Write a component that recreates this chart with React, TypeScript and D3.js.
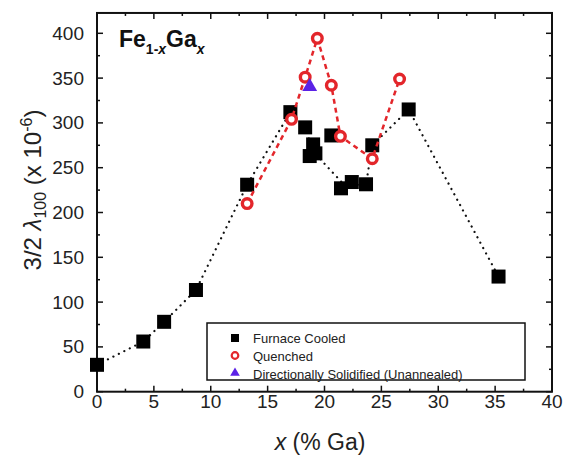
import React from "react";
import * as d3 from "d3";

const furnaceX = [0, 4.07, 5.9, 8.7, 13.2, 17.0, 18.3, 18.7, 19.2, 19.0, 20.6, 21.45, 22.4, 23.65, 24.2, 27.4, 35.3];
const furnaceY = [30, 56, 78, 113.5, 231, 312, 295, 263, 266, 276, 286, 227, 234, 231.5, 275, 315, 128.5];

const trendX = [0, 4.07, 5.9, 8.7, 13.2, 17.0, 18.3, 19.0, 21.8, 23.65, 24.2, 27.4, 35.3];
const trendY = [30, 56, 78, 113.5, 231, 312, 295, 268, 230, 231.5, 275, 315, 128.5];

const quenchX = [13.2, 17.1, 18.3, 19.37, 20.6, 21.4, 24.2, 26.6];
const quenchY = [210, 304, 351, 394.4, 342, 285, 260, 349];

const dsX = [18.7];
const dsY = [340.5];

const xTicks = [0, 5, 10, 15, 20, 25, 30, 35, 40];
const yTicks = [0, 50, 100, 150, 200, 250, 300, 350, 400];
const legendLabels = ["Furnace Cooled", "Quenched", "Directionally Solidified (Unannealed)"];

const FONT = "'Liberation Sans', Arial, Helvetica, sans-serif";
const RED = "#e3262b";
const BLUE = "#5b22e6";

export default function App() {
  const x = d3.scaleLinear().domain([0, 40]).range([97, 552]);
  const y = d3.scaleLinear().domain([0, 400]).range([391.7, 33.3]);
  const left = x(0), right = x(40), bottom = y(0), top = y(422.7);

  const line = d3.line<[number, number]>().x((d) => x(d[0])).y((d) => y(d[1]));
  const trendPts = trendX.map((v, i) => [v, trendY[i]] as [number, number]);
  const quenchPts = quenchX.map((v, i) => [v, quenchY[i]] as [number, number]);

  const xMinor = d3.range(0, 40.01, 2.5);
  const yMinor = d3.range(0, 420.01, 25);

  const sq = 14;
  const tri = d3.symbol().type(d3.symbolTriangle).size(95)();
  const triSmall = d3.symbol().type(d3.symbolTriangle).size(40)();

  return (
    <svg width={563} height={459} style={{ position: "absolute", left: 0, top: 0, background: "#fff" }} fontFamily={FONT}>
      <rect x={0} y={0} width={563} height={459} fill="#fff" />
      {/* ticks */}
      {xMinor.map((t) => {
        const major = Math.abs(t % 5) < 1e-6;
        const len = major ? 6 : 3;
        return (
          <g key={"xt" + t}>
            <line x1={x(t)} x2={x(t)} y1={bottom} y2={bottom - len} stroke="#111" strokeWidth={1.5} />
            <line x1={x(t)} x2={x(t)} y1={top} y2={top + len} stroke="#111" strokeWidth={1.5} />
          </g>
        );
      })}
      {yMinor.map((t) => {
        const major = Math.abs(t % 50) < 1e-6;
        const len = major ? 6 : 3;
        return (
          <g key={"yt" + t}>
            <line x1={left} x2={left + len} y1={y(t)} y2={y(t)} stroke="#111" strokeWidth={1.5} />
            <line x1={right} x2={right - len} y1={y(t)} y2={y(t)} stroke="#111" strokeWidth={1.5} />
          </g>
        );
      })}
      <rect x={left} y={top} width={right - left} height={bottom - top} fill="none" stroke="#111" strokeWidth={2} />

      {/* tick labels */}
      {xTicks.map((t) => (
        <text key={"xl" + t} x={x(t)} y={408} textAnchor="middle" fontSize={19} fill="#222">{t}</text>
      ))}
      {yTicks.map((t) => (
        <text key={"yl" + t} x={84} y={y(t) + 6.5} textAnchor="end" fontSize={19} fill="#222">{t}</text>
      ))}

      {/* axis titles */}
      <text x={320} y={450} textAnchor="middle" fontSize={23} fill="#222">
        <tspan fontStyle="italic">x</tspan> (% Ga)
      </text>
      <text transform="translate(41,190) rotate(-90)" textAnchor="middle" fontSize={24} fill="#222">
        3/2 <tspan fontStyle="italic">λ</tspan>
        <tspan fontSize={16} dy={5}>100</tspan>
        <tspan dy={-5}> (x 10</tspan>
        <tspan fontSize={16} dy={-9}>-6</tspan>
        <tspan dy={9}>)</tspan>
      </text>

      {/* panel title */}
      <text x={119} y={47} fontSize={23} fontWeight="bold" fill="#111">
        Fe<tspan fontSize={14} dy={7}>1-<tspan fontStyle="italic">x</tspan></tspan>
        <tspan dy={-7}>Ga</tspan>
        <tspan fontSize={14} dy={7} fontStyle="italic">x</tspan>
      </text>

      {/* furnace cooled trend */}
      <path d={line(trendPts) || ""} fill="none" stroke="#111" strokeWidth={2.2} strokeDasharray="0.1 6" strokeLinecap="round" />
      {furnaceX.map((v, i) => (
        <rect key={"f" + i} x={x(v) - sq / 2} y={y(furnaceY[i]) - sq / 2} width={sq} height={sq} fill="#000" />
      ))}

      {/* quenched */}
      <path d={line(quenchPts) || ""} fill="none" stroke={RED} strokeWidth={2.5} strokeDasharray="5 4" />
      {quenchX.map((v, i) => (
        <circle key={"q" + i} cx={x(v)} cy={y(quenchY[i])} r={4.8} fill="#fff" stroke={RED} strokeWidth={3.4} />
      ))}

      {/* directionally solidified */}
      {dsX.map((v, i) => (
        <path key={"d" + i} d={tri || ""} transform={`translate(${x(v)},${y(dsY[i])})`} fill={BLUE} />
      ))}

      {/* legend */}
      <rect x={207} y={323} width={318} height={57} fill="#fff" stroke="#111" strokeWidth={1.5} />
      <rect x={231} y={334} width={8} height={8} fill="#000" />
      <circle cx={235} cy={355.5} r={3.3} fill="#fff" stroke={RED} strokeWidth={2.2} />
      <path d={triSmall || ""} transform="translate(235,373)" fill={BLUE} />
      {legendLabels.map((l, i) => (
        <text key={l} x={253} y={342.5 + i * 18} fontSize={13} fill="#222">{l}</text>
      ))}
    </svg>
  );
}
